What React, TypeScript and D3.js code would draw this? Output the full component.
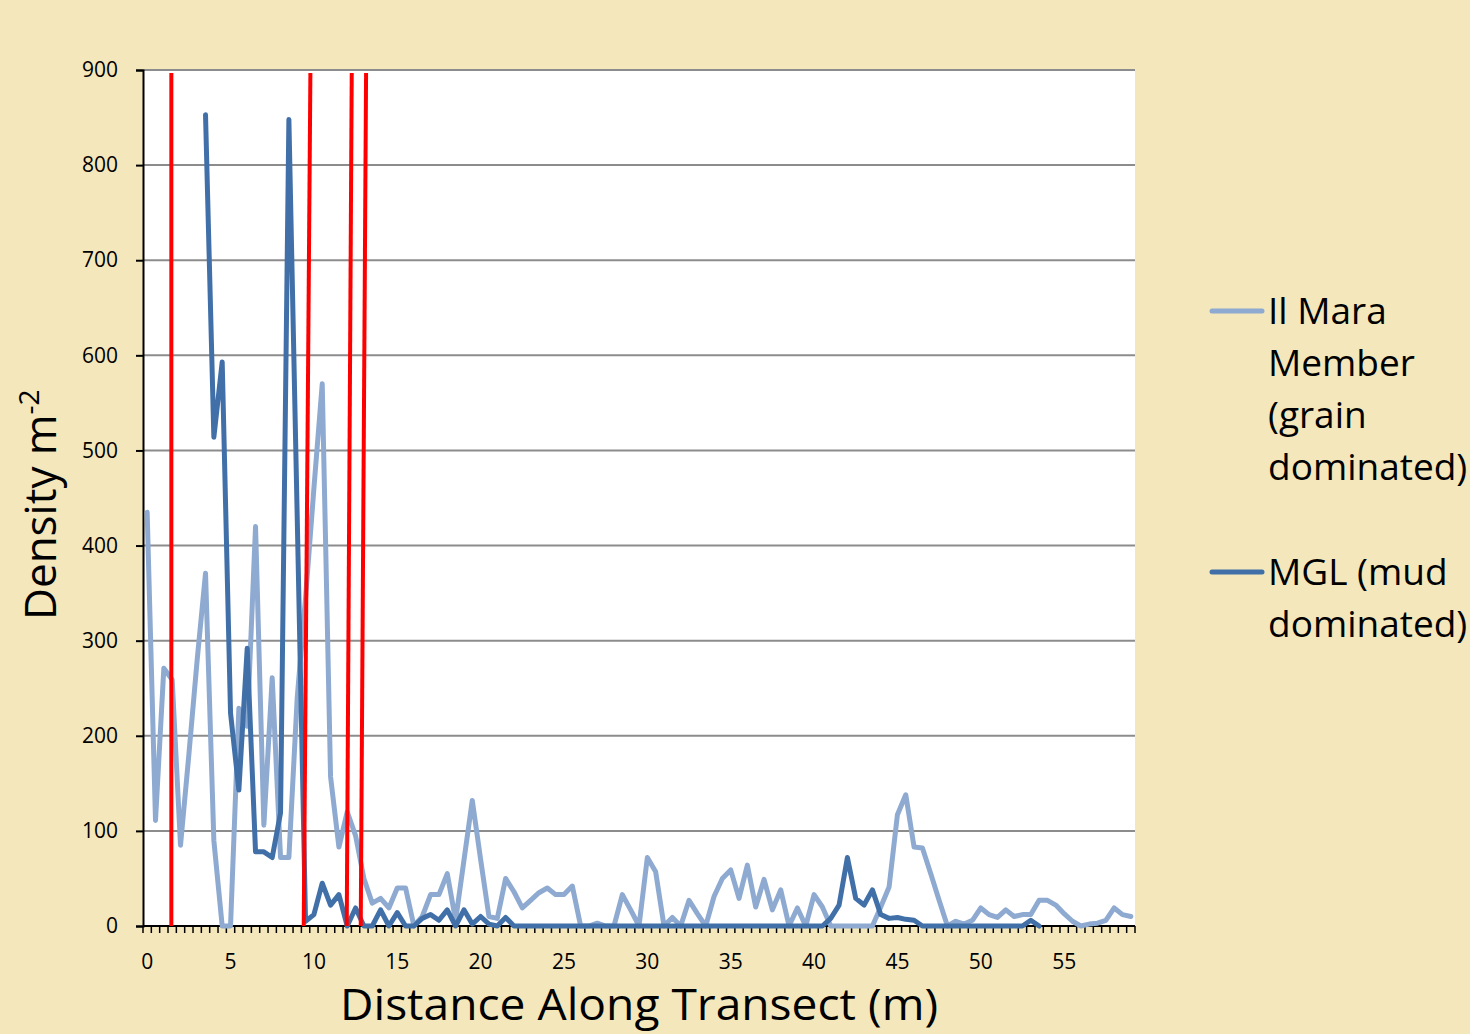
import { useRef, useEffect } from 'react';
import * as d3 from 'd3';

// distance along transect, one category every 0.5 m
const distances: number[] = d3.range(0, 119).map(i => i * 0.5);

// Il Mara Member (grain dominated), rows of 5 m
const ilMara: number[] = [
  435, 111, 271, 259, 85, 180, 280, 371, 90, 0,
  0, 229, 210, 420, 106, 261, 72, 72, 240, 345,
  460, 570, 157, 83, 120, 95, 50, 24, 29, 19,
  40, 40, 0, 10, 33, 33, 55, 6, 69, 132,
  70, 10, 8, 50, 36, 19, 27, 35, 40, 33,
  33, 42, 0, 0, 3, 0, 0, 33, 17, 0,
  72, 57, 0, 9, 0, 27, 13, 0, 31, 50,
  59, 29, 64, 20, 49, 17, 38, 0, 19, 0,
  33, 20, 0, 0, 0, 0, 0, 0, 20, 41,
  117, 138, 83, 82, 55, 27, 0, 5, 2, 6,
  19, 12, 9, 17, 10, 12, 12, 27, 27, 22,
  13, 5, 0, 2, 3, 6, 19, 12, 10,
];

// MGL (mud dominated)
const mgl: (number | null)[] = [
  null, null, null, null, null, null, null, 853, 514, 593,
  224, 143, 292, 78, 78, 72, 119, 848, 430, 5,
  12, 45, 22, 33, 0, 19, 0, 0, 17, 0,
  14, 0, 0, 8, 12, 6, 17, 0, 17, 2,
  10, 2, 0, 9, 0, 0, 0, 0, 0, 0,
  0, 0, 0, 0, 0, 0, 0, 0, 0, 0,
  0, 0, 0, 0, 0, 0, 0, 0, 0, 0,
  0, 0, 0, 0, 0, 0, 0, 0, 0, 0,
  0, 0, 8, 22, 72, 29, 22, 38, 12, 8,
  9, 7, 6, 0, 0, 0, 0, 0, 0, 0,
  0, 0, 0, 0, 0, 0, 6, 0, null, null,
  null, null, null, null, null, null, null, null, null,
];

const yTicks = [0, 100, 200, 300, 400, 500, 600, 700, 800, 900];
const xTickLabels = [0, 5, 10, 15, 20, 25, 30, 35, 40, 45, 50, 55];

// red boundary markers (distance at top / at bottom of the plot)
const redTop = [1.45, 9.79, 12.27, 13.13];
const redBottom = [1.45, 9.39, 11.97, 12.81];

const seriesNames = [
  ['Il Mara', 'Member', '(grain', 'dominated)'],
  ['MGL (mud', 'dominated)'],
];
const seriesColors = ['#8eaad1', '#4170a8'];

const Chart = () => {
  const ref = useRef<SVGSVGElement>(null);

  useEffect(() => {
    const svg = d3.select(ref.current);
    svg.selectAll('*').remove();

    const left = 143, right = 1135, top = 70, bottom = 926;
    const font = '"Open Sans", sans-serif';

    svg.append('rect').attr('width', 1470).attr('height', 1034).attr('fill', '#f3e7bb');
    svg.append('rect')
      .attr('x', left).attr('y', top)
      .attr('width', right - left).attr('height', bottom - top)
      .attr('fill', '#ffffff');

    const x = d3.scaleBand<number>().domain(distances).range([left, right]).paddingInner(0).paddingOuter(0);
    const bw = x.bandwidth();
    const px = (d: number) => (x(d) as number) + bw / 2;
    const xLin = d3.scaleLinear().domain([0, 59]).range([px(0), px(59)]);
    const y = d3.scaleLinear().domain([0, 900]).range([bottom, top]);

    // gridlines
    svg.append('g').selectAll('line')
      .data(yTicks.filter(t => t > 0))
      .enter().append('line')
      .attr('x1', left).attr('x2', right)
      .attr('y1', d => y(d)).attr('y2', d => y(d))
      .attr('stroke', '#8c8c8c').attr('stroke-width', 2);

    // y axis
    const yAxis = svg.append('g').attr('transform', `translate(${left},0)`)
      .call(d3.axisLeft(y).tickValues(yTicks).tickSize(7).tickPadding(18));
    yAxis.select('.domain').attr('stroke', '#000').attr('stroke-width', 2);
    yAxis.selectAll('.tick line').attr('stroke', '#000').attr('stroke-width', 2);
    yAxis.selectAll('.tick text')
      .attr('font-family', font).attr('font-size', 21).attr('fill', '#000');

    // x axis: ticks at category boundaries, labels every 5 m
    const xg = svg.append('g');
    xg.append('line')
      .attr('x1', left).attr('x2', right).attr('y1', bottom).attr('y2', bottom)
      .attr('stroke', '#000').attr('stroke-width', 2);
    xg.selectAll('line.tk')
      .data(distances.concat([59.5]))
      .enter().append('line')
      .attr('class', 'tk')
      .attr('x1', d => d <= 59 ? (x(d) as number) : right)
      .attr('x2', d => d <= 59 ? (x(d) as number) : right)
      .attr('y1', bottom).attr('y2', bottom + 7)
      .attr('stroke', '#000').attr('stroke-width', 1.5);
    xg.selectAll('text')
      .data(xTickLabels)
      .enter().append('text')
      .attr('x', d => px(d))
      .attr('y', bottom + 43)
      .attr('text-anchor', 'middle')
      .attr('font-family', font).attr('font-size', 21)
      .text(d => d);

    // series
    const series = [ilMara, mgl];
    series.forEach((vals, i) => {
      const line = d3.line<number | null>()
        .defined(d => d != null)
        .x((_, j) => px(distances[j]))
        .y(d => y(d as number));
      svg.append('path')
        .attr('d', line(vals))
        .attr('fill', 'none')
        .attr('stroke', seriesColors[i])
        .attr('stroke-width', 5)
        .attr('stroke-linejoin', 'round')
        .attr('stroke-linecap', 'round');
    });

    // red markers
    svg.append('g').selectAll('line')
      .data(redTop)
      .enter().append('line')
      .attr('x1', d => xLin(d)).attr('y1', top + 3)
      .attr('x2', (_, i) => xLin(redBottom[i])).attr('y2', bottom)
      .attr('stroke', '#ff0000').attr('stroke-width', 4);

    // axis titles
    svg.append('text')
      .attr('x', 340).attr('y', 1020)
      .attr('font-family', font).attr('font-size', 44)
      .attr('textLength', 598).attr('lengthAdjust', 'spacingAndGlyphs')
      .text('Distance Along Transect (m)');

    const yt = svg.append('text')
      .attr('transform', 'translate(56,620) rotate(-90)')
      .attr('font-family', font).attr('font-size', 44);
    yt.append('tspan').text('Density m');
    yt.append('tspan').attr('font-size', 28).attr('dy', -17).text('-2');

    // legend
    const legendY = [311, 572];
    seriesNames.forEach((lines, i) => {
      svg.append('line')
        .attr('x1', 1212).attr('x2', 1262)
        .attr('y1', legendY[i]).attr('y2', legendY[i])
        .attr('stroke', seriesColors[i]).attr('stroke-width', 5)
        .attr('stroke-linecap', 'round');
      svg.append('g').selectAll('text')
        .data(lines)
        .enter().append('text')
        .attr('x', 1268)
        .attr('y', (_, k) => legendY[i] + 13 + k * 52)
        .attr('font-family', font).attr('font-size', 37)
        .text(d => d);
    });
  }, []);

  return <svg ref={ref} width={1470} height={1034} style={{ position: 'absolute', left: 0, top: 0 }}></svg>;
};

export default function App() {
  return <Chart />;
}
